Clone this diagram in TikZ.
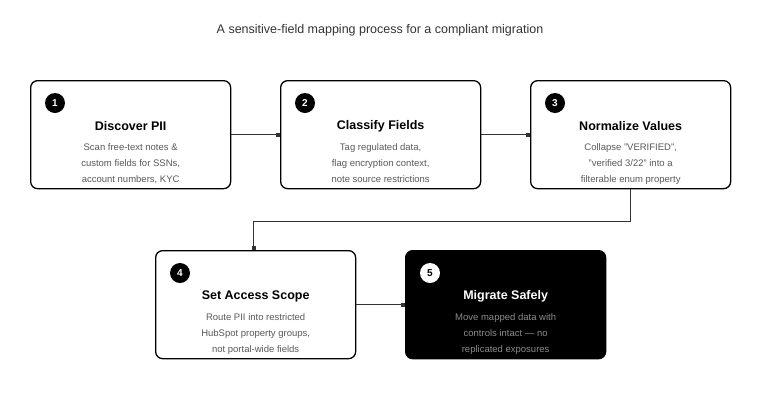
\documentclass[tikz,border=0pt]{standalone}
\usepackage{fontspec}
\setmainfont{Liberation Sans}
\usetikzlibrary{arrows.meta}
\begin{document}
\begin{tikzpicture}[x=1pt,y=-1pt,
  card/.style={draw=black,line width=1.3pt,rounded corners=7pt,fill=white,minimum width=200pt,minimum height=108pt,anchor=north west},
  darkcard/.style={card,fill=black},
  num/.style={circle,fill=black,text=white,minimum size=20pt,inner sep=0pt,font=\bfseries\fontsize{10}{12}\selectfont},
  numw/.style={num,fill=white,text=black},
  ttl/.style={font=\bfseries\fontsize{12.5}{15}\selectfont},
  desc/.style={align=center,text=black!65,font=\fontsize{9.5}{16}\selectfont},
  link/.style={draw=black!80,line width=1.1pt,-{Square[length=4pt,width=4pt]}}]
\useasboundingbox (0,0) rectangle (760,400);
\node[font=\fontsize{12.5}{15}\selectfont,text=black!80] (title) at (380,30) {A sensitive-field mapping process for a compliant migration};
\node[card] (b1) at (30,80) {};
\node[card] (b2) at (280,80) {};
\node[card] (b3) at (530,80) {};
\node[card] (b4) at (155,250) {};
\node[darkcard] (b5) at (405,250) {};
\foreach \b/\n/\t/\d in {b1/1/Discover PII/{Scan free-text notes \&\\custom fields for SSNs,\\account numbers, KYC},
  b2/2/Classify Fields/{Tag regulated data,\\flag encryption context,\\note source restrictions},
  b3/3/Normalize Values/{Collapse "VERIFIED",\\"verified 3/22" into a\\filterable enum property},
  b4/4/Set Access Scope/{Route PII into restricted\\HubSpot property groups,\\not portal-wide fields}}{
  \node[num] (\b n) at ([xshift=25pt,yshift=-23pt]\b.north west) {\n};
  \node[ttl] (\b t) at ([yshift=-46pt]\b.north) {\t};
  \node[desc,anchor=north] (\b d) at ([yshift=-60pt]\b.north) {\d};
}
\node[numw] (b5n) at ([xshift=25pt,yshift=-23pt]b5.north west) {5};
\node[ttl,text=white] (b5t) at ([yshift=-46pt]b5.north) {Migrate Safely};
\node[desc,anchor=north,text=black!45] (b5d) at ([yshift=-60pt]b5.north) {Move mapped data with\\controls intact — no\\replicated exposures};
\draw[link] (b1.east) -- (b2.west);
\draw[link] (b2.east) -- (b3.west);
\draw[link] (b3.south) -- ++(0,32) -| ([xshift=-2pt]b4.north);
\draw[link] (b4.east) -- (b5.west);
\end{tikzpicture}
\end{document}
